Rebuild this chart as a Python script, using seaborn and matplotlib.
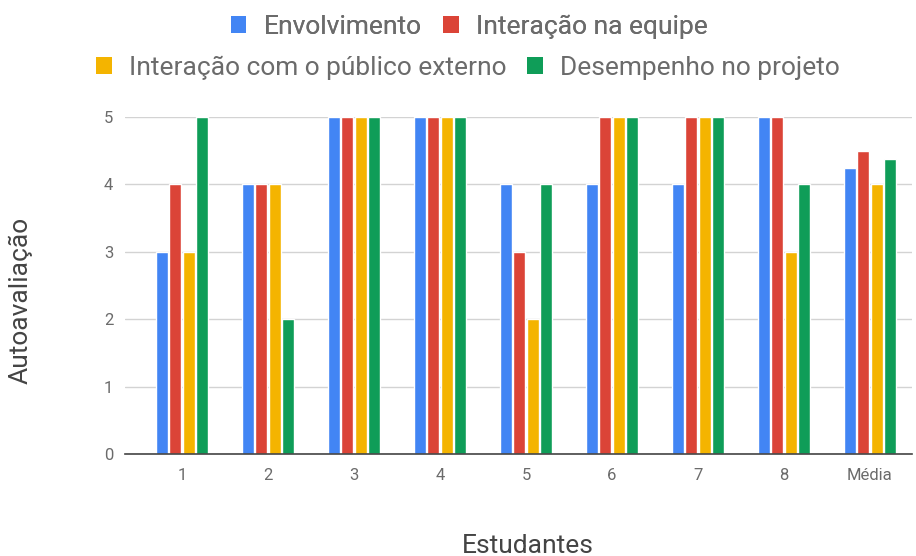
import matplotlib
matplotlib.use("Agg")
import matplotlib.pyplot as plt
import seaborn as sns
import pandas as pd
from matplotlib.patches import Patch

students = ["1", "2", "3", "4", "5", "6", "7", "8", "Média"]
envolvimento = [3, 4, 5, 5, 4, 4, 4, 5, 4.25]
interacao_equipe = [4, 4, 5, 5, 3, 5, 5, 5, 4.5]
interacao_publico = [3, 4, 5, 5, 2, 5, 5, 3, 4.0]
desempenho = [5, 2, 5, 5, 4, 5, 5, 4, 4.375]
series_names = ["Envolvimento", "Interação na equipe",
                "Interação com o público externo", "Desempenho no projeto"]
colors = ["#4285F4", "#DB4437", "#F4B400", "#0F9D58"]

rows = []
for name, vals in zip(series_names, [envolvimento, interacao_equipe, interacao_publico, desempenho]):
    for s, v in zip(students, vals):
        rows.append({"Estudante": s, "Série": name, "Valor": v})
df = pd.DataFrame(rows)

sns.set_theme(style="white")
plt.rcParams['font.family'] = ['Roboto', 'DejaVu Sans']

fig = plt.figure(figsize=(9.16, 5.56), dpi=100)
ax = fig.add_axes([125/916, 1-454/556, 787/916, 337/556])
sns.barplot(data=df, x="Estudante", y="Valor", hue="Série", order=students,
            hue_order=series_names, palette=colors, width=0.628, gap=0.12,
            saturation=1, ax=ax, legend=False)

ax.set_ylim(0, 5)
ax.set_xlim(-0.663, 8.49)
ax.set_yticks([0, 1, 2, 3, 4, 5])
ax.yaxis.grid(True, color="#d3d3d3", linewidth=1)
ax.set_axisbelow(True)
for sp in ["left", "right", "top"]:
    ax.spines[sp].set_visible(False)
ax.spines["bottom"].set_color("#444444")
ax.spines["bottom"].set_linewidth(1.2)
ax.tick_params(axis="both", length=0, colors="#6b6b6b", labelsize=12)
ax.tick_params(axis="y", pad=8.5)
ax.tick_params(axis="x", pad=10)

ax.set_xlabel("Estudantes", fontsize=19, color="#444444")
ax.set_ylabel("Autoavaliação", fontsize=19, color="#444444")
ax.xaxis.set_label_coords(0.512, -0.236)
ax.yaxis.set_label_coords(-0.118, 0.457)

handles = [Patch(facecolor=c, edgecolor="none") for c in colors]
common = dict(loc="center", ncol=2, frameon=False, fontsize=19,
              labelcolor="#6b6b6b", handlelength=0.6, handleheight=0.62,
              handletextpad=0.65, columnspacing=0.8)
leg1 = fig.legend(handles[:2], series_names[:2],
                  bbox_to_anchor=(469/916, 1-27/556), **common)
leg2 = fig.legend(handles[2:], series_names[2:],
                  bbox_to_anchor=(468/916, 1-68/556), **common)
fig.add_artist(leg1)

fig.savefig("out.png", dpi=100)
